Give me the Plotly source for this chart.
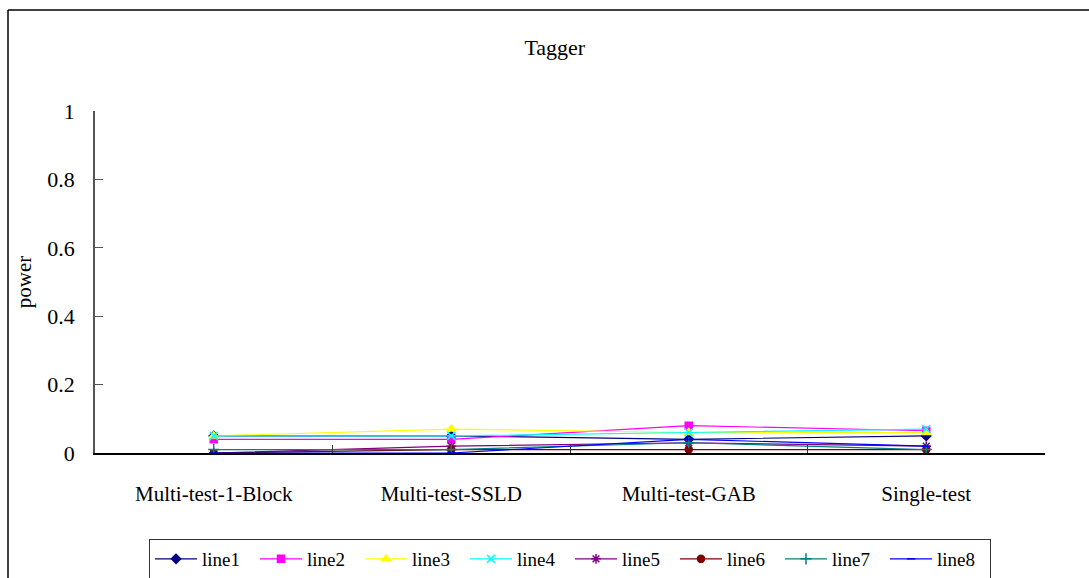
import plotly.graph_objects as go

categories = ["Multi-test-1-Block", "Multi-test-SSLD", "Multi-test-GAB", "Single-test"]
line1 = [0.05, 0.05, 0.04, 0.05]
line2 = [0.04, 0.04, 0.08, 0.065]
line3 = [0.05, 0.07, 0.06, 0.06]
line4 = [0.05, 0.05, 0.06, 0.07]
line5 = [0.0, 0.02, 0.03, 0.02]
line6 = [0.0, 0.01, 0.01, 0.01]
line7 = [0.01, 0.01, 0.03, 0.01]
line8 = [0.0, 0.0, 0.04, 0.02]
y_ticks = [0, 0.2, 0.4, 0.6, 0.8, 1]
y_labels = ["0", "0.2", "0.4", "0.6", "0.8", "1"]

series = [
    ("line1", line1, "#000080", "diamond", 7),
    ("line2", line2, "#FF00FF", "square", 7),
    ("line3", line3, "#FFFF00", "triangle-up", 8),
    ("line4", line4, "#00FFFF", "x-thin", 8),
    ("line5", line5, "#800080", "asterisk", 8),
    ("line6", line6, "#800000", "circle", 7),
    ("line7", line7, "#008080", "cross-thin", 8),
    ("line8", line8, "#0000FF", "line-ew", 6),
]

FONT = "Liberation Serif"

fig = go.Figure()
for name, vals, color, sym, size in series:
    fig.add_trace(go.Scatter(
        x=categories, y=vals, name=name, mode="lines+markers",
        line=dict(color=color, width=1.2),
        marker=dict(symbol=sym, size=size, color=color,
                    line=dict(color=color, width=1.5)),
    ))

fig.update_layout(
    width=1089, height=578,
    margin=dict(l=95, r=44, t=111, b=125, autoexpand=False),
    paper_bgcolor="white", plot_bgcolor="white",
    font=dict(family=FONT, size=21, color="black"),
    title=dict(text="Tagger", x=0.484, xref="paper", xanchor="center",
               y=1 - 47 / 578, yanchor="middle", font=dict(size=22, family=FONT)),
    showlegend=True,
    legend=dict(orientation="h", x=0.5, xanchor="center", y=-0.31, yanchor="middle",
                bordercolor="#333333", borderwidth=1, font=dict(size=19, family=FONT),
                itemwidth=42, tracegroupgap=0, entrywidth=48),
    xaxis=dict(
        type="category", range=[-0.5, 3.5], showgrid=False, zeroline=False,
        showline=True, linecolor="black", linewidth=1.5,
        ticks="inside", tickson="boundaries", ticklen=8, tickcolor="#333333",
        ticklabelstandoff=21, tickfont=dict(size=21, family=FONT),
    ),
    yaxis=dict(
        range=[0, 1], tickvals=y_ticks, ticktext=y_labels, showgrid=False,
        zeroline=False, showline=True, linecolor="#555555", linewidth=1.5,
        ticks="inside", ticklen=8, tickcolor="#555555", ticklabelstandoff=14,
        tickfont=dict(size=22, family=FONT),
        title=dict(text="power", font=dict(size=21, family=FONT), standoff=10),
    ),
    shapes=[
        dict(type="line", xref="paper", yref="paper",
             x0=(8 - 95) / 950, x1=(1089 - 95) / 950,
             y0=(453 - 10) / 342, y1=(453 - 10) / 342,
             line=dict(color="black", width=1.5)),
        dict(type="line", xref="paper", yref="paper",
             x0=(8 - 95) / 950, x1=(8 - 95) / 950,
             y0=(453 - 10) / 342, y1=(453 - 580) / 342,
             line=dict(color="black", width=1.5)),
    ],
)

fig.write_html("out.html", config={"displayModeBar": False},
               post_script="document.body.style.margin='0';")
